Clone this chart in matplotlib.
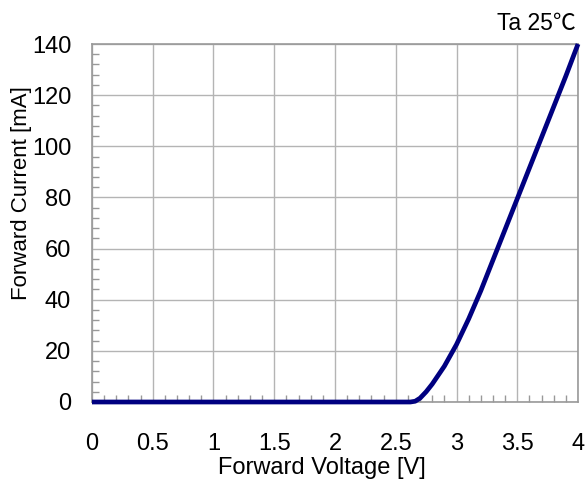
import matplotlib
matplotlib.use("Agg")
import matplotlib.pyplot as plt
from matplotlib.ticker import MultipleLocator

plt.rcParams['font.family'] = ['Liberation Sans', 'DejaVu Sans']

# Forward voltage [V] vs forward current [mA]
voltage = [0.0, 0.5, 1.0, 1.5, 2.0, 2.5, 2.62, 2.66, 2.7, 2.75, 2.8, 2.9, 3.0,
           3.1, 3.2, 3.3, 3.4, 3.5, 3.6, 3.7, 3.8, 3.9, 4.0]
current = [0.0, 0.0, 0.0, 0.0, 0.0, 0.0, 0.0, 0.3, 1.5, 4.0, 7.0, 14.0, 22.5,
           32.5, 43.5, 55.5, 67.5, 79.5, 91.5, 103.5, 115.5, 127.5, 140.0]

x_ticks = [0, 0.5, 1, 1.5, 2, 2.5, 3, 3.5, 4]
x_labels = ["0", "0.5", "1", "1.5", "2", "2.5", "3", "3.5", "4"]
y_ticks = [0, 20, 40, 60, 80, 100, 120, 140]

fig = plt.figure(figsize=(5.87, 4.80), dpi=100)
ax = fig.add_axes([0.1567, 0.1625, 0.828, 0.7458])

ax.plot(voltage, current, color="#000080", lw=3.4, solid_capstyle="butt",
        clip_on=False, zorder=3)

ax.set_xlim(0, 4)
ax.set_ylim(0, 140)
ax.set_xticks(x_ticks)
ax.set_xticklabels(x_labels)
ax.set_yticks(y_ticks)
ax.xaxis.set_minor_locator(MultipleLocator(0.1))
ax.yaxis.set_minor_locator(MultipleLocator(4))

ax.grid(True, which="major", color="#b4b4b4", lw=1.0)
ax.tick_params(which="major", length=0, labelsize=17)
ax.tick_params(axis="x", which="major", pad=22)
ax.tick_params(axis="y", which="major", pad=15)
ax.tick_params(which="minor", direction="in", length=5, color="#999999", width=1)
for s in ax.spines.values():
    s.set_color("#999999")
    s.set_linewidth(1.2)

# axis titles placed as in the reference (they sit close to the tick labels)
fig.text(0.548, 0.026, "Forward Voltage [V]", ha="center", va="center", fontsize=17)
fig.text(0.037, 0.598, "Forward Current [mA]", ha="center", va="center",
         rotation=90, fontsize=16)
fig.text(0.98, 0.938, "Ta 25℃", ha="right", va="baseline", fontsize=16.5,
         family=['Liberation Sans', 'Noto Sans CJK JP'])

fig.savefig("out.png", dpi=100)
plt.close(fig)
